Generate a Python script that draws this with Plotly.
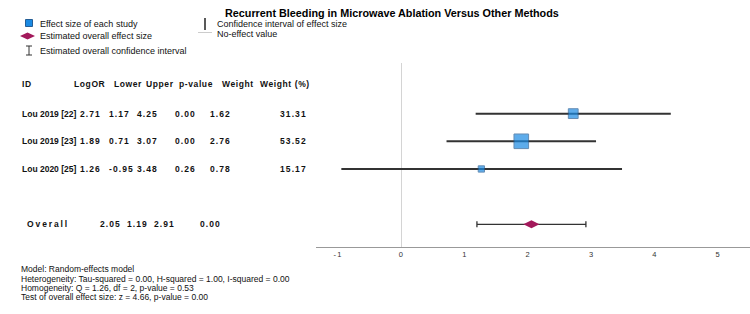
import plotly.graph_objects as go

# ---------------- data ----------------
title_text = "Recurrent Bleeding in Microwave Ablation Versus Other Methods"
study_ids = ["Lou 2019 [22]", "Lou 2019 [23]", "Lou 2020 [25]"]
log_or = [2.71, 1.89, 1.26]
lower = [1.17, 0.71, -0.95]
upper = [4.25, 3.07, 3.48]
p_values = [0.00, 0.00, 0.26]
weights = [1.62, 2.76, 0.78]
weight_pct = [31.31, 53.52, 15.17]

overall_label = "Overall"
overall_est = 2.05
overall_lower = 1.19
overall_upper = 2.91
overall_p = 0.00

header_labels = ["ID", "LogOR", "Lower", "Upper", "p-value", "Weight", "Weight (%)"]
x_tick_vals = [-1, 0, 1, 2, 3, 4, 5]

legend_labels_left = ["Effect size of each study", "Estimated overall effect size",
                      "Estimated overall confidence interval"]
legend_labels_right = ["Confidence interval of effect size", "No-effect value"]

footer_lines = [
    "Model: Random-effects model",
    "Heterogeneity: Tau-squared = 0.00, H-squared = 1.00, I-squared = 0.00",
    "Homogeneity: Q = 1.26, df = 2, p-value = 0.53",
    "Test of overall effect size: z = 4.66, p-value = 0.00",
]

# ---------------- layout helpers ----------------
W, H = 750, 314
def px(x):
    return x / W
def py(y):
    return 1 - y / H

FONT = "Liberation Sans, Arial, Helvetica, sans-serif"
BLUE = "#1a8ae3"
BLUE_EDGE = "#245d95"
MAROON = "#a3195b"
CI_COLOR = "#333333"

def tracked(s, sp=1.0, bold=True):
    inner = f'<span style="letter-spacing:{sp}px">{s}</span>'
    return f"<b>{inner}</b>" if bold else inner

n = len(study_ids)
rows = list(range(1, n + 1))
overall_row = n + 2

fig = go.Figure()

# study CIs + squares
fig.add_trace(go.Scatter(
    x=log_or, y=rows, mode="markers",
    marker=dict(symbol="square", color=BLUE,
                size=[3 + 4.2 * w for w in weights],
                line=dict(color=BLUE_EDGE, width=1)),
    error_x=dict(type="data", symmetric=False,
                 array=[u - e for u, e in zip(upper, log_or)],
                 arrayminus=[e - l for e, l in zip(log_or, lower)],
                 width=0, thickness=2, color=CI_COLOR),
    hoverinfo="skip", showlegend=False,
))

# overall
fig.add_trace(go.Scatter(
    x=[overall_est], y=[overall_row], mode="markers",
    marker=dict(symbol="diamond-wide", color=MAROON, size=11.5, line=dict(width=0)),
    error_x=dict(type="data", symmetric=False,
                 array=[overall_upper - overall_est],
                 arrayminus=[overall_est - overall_lower],
                 width=3, thickness=1.3, color=CI_COLOR),
    hoverinfo="skip", showlegend=False,
))

annotations = []
TABLE_SIZE = 8.5
TXT = "#111"
# header
header_x = [20, 72, 112, 144, 177, 220, 258]
for lab, xx in zip(header_labels, header_x):
    annotations.append(dict(x=px(xx), y=py(84), xref="paper", yref="paper",
                            text=tracked(lab, 0.6), showarrow=False, xanchor="left", yanchor="middle",
                            font=dict(family=FONT, size=TABLE_SIZE, color=TXT)))
# study rows
col_x = [20, 78, 107, 135, 173, 208, 278]
for i in range(n):
    vals = [study_ids[i], f"{log_or[i]:.2f}", f"{lower[i]:.2f}", f"{upper[i]:.2f}",
            f"{p_values[i]:.2f}", f"{weights[i]:.2f}", f"{weight_pct[i]:.2f}"]
    for j, (v, xx) in enumerate(zip(vals, col_x)):
        sp = 0 if j == 0 else 1.1
        annotations.append(dict(x=px(xx), y=rows[i], xref="paper", yref="y",
                                text=tracked(v, sp), showarrow=False, xanchor="left", yanchor="middle",
                                font=dict(family=FONT, size=TABLE_SIZE, color=TXT)))
# overall row
ov_vals = [overall_label, f"{overall_est:.2f}", f"{overall_lower:.2f}", f"{overall_upper:.2f}", f"{overall_p:.2f}"]
ov_x = [25, 98, 125, 152, 198]
for j, (v, xx) in enumerate(zip(ov_vals, ov_x)):
    sp = 1.9 if j == 0 else 1.1
    annotations.append(dict(x=px(xx), y=overall_row, xref="paper", yref="y",
                            text=tracked(v, sp), showarrow=False, xanchor="left", yanchor="middle",
                            font=dict(family=FONT, size=TABLE_SIZE, color=TXT)))

# title
annotations.append(dict(x=px(391.5), y=py(13), xref="paper", yref="paper", text="<b>" + title_text + "</b>",
                        showarrow=False, xanchor="center", yanchor="middle",
                        font=dict(family=FONT, size=10.8, color="#000")))

# legend texts
for lab, yy in zip(legend_labels_left, [24, 36, 51]):
    annotations.append(dict(x=px(38), y=py(yy), xref="paper", yref="paper", text=lab,
                            showarrow=False, xanchor="left", yanchor="middle",
                            font=dict(family=FONT, size=9, color=TXT)))
for lab, yy in zip(legend_labels_right, [24, 34]):
    annotations.append(dict(x=px(215), y=py(yy), xref="paper", yref="paper", text=lab,
                            showarrow=False, xanchor="left", yanchor="middle",
                            font=dict(family=FONT, size=9, color=TXT)))

# footer
for lab, yy in zip(footer_lines, [269, 279, 288, 297]):
    annotations.append(dict(x=px(19), y=py(yy), xref="paper", yref="paper", text=lab,
                            showarrow=False, xanchor="left", yanchor="middle",
                            font=dict(family=FONT, size=8.5, color=TXT)))

# legend glyph shapes
shapes = [
    dict(type="rect", xref="paper", yref="paper", x0=px(25.5), x1=px(32.5), y0=py(26.5), y1=py(19.5),
         fillcolor=BLUE, line=dict(color=BLUE_EDGE, width=1)),
    dict(type="path", xref="paper", yref="paper",
         path=f"M {px(20)},{py(36)} L {px(27.5)},{py(32.5)} L {px(35)},{py(36)} L {px(27.5)},{py(39.5)} Z",
         fillcolor=MAROON, line=dict(width=0)),
    dict(type="line", xref="paper", yref="paper", x0=px(29), x1=px(29), y0=py(46), y1=py(55),
         line=dict(color=CI_COLOR, width=1)),
    dict(type="line", xref="paper", yref="paper", x0=px(26), x1=px(32), y0=py(46), y1=py(46),
         line=dict(color=CI_COLOR, width=1)),
    dict(type="line", xref="paper", yref="paper", x0=px(26), x1=px(32), y0=py(55), y1=py(55),
         line=dict(color=CI_COLOR, width=1)),
    dict(type="line", xref="paper", yref="paper", x0=px(205), x1=px(205), y0=py(18), y1=py(30),
         line=dict(color="#222", width=1.5)),
    dict(type="line", xref="paper", yref="paper", x0=px(198), x1=px(212), y0=py(32.5), y1=py(32.5),
         line=dict(color="#cccccc", width=1)),
]

fig.update_layout(
    width=W, height=H, autosize=False,
    margin=dict(l=0, r=0, t=0, b=0, pad=0),
    paper_bgcolor="white", plot_bgcolor="rgba(0,0,0,0)",
    showlegend=False,
    annotations=annotations, shapes=shapes,
    xaxis=dict(domain=[px(316), 1], range=[-1.35, 5.5],
               tickvals=x_tick_vals, ticktext=[tracked(str(v), 1.3, bold=False) for v in x_tick_vals],
               showgrid=False, zeroline=True, zerolinecolor="#d4d4d4", zerolinewidth=1,
               showline=True, linecolor="#999999", linewidth=1.2, ticks="",
               tickfont=dict(family=FONT, size=7.5, color="#333"), fixedrange=True),
    yaxis=dict(domain=[py(246.7), py(63)], range=[5.81, -0.83],
               showgrid=False, zeroline=False, showline=False, showticklabels=False, ticks="",
               fixedrange=True),
)

fig.write_html("out.html", include_plotlyjs=True, config={"displayModeBar": False})
